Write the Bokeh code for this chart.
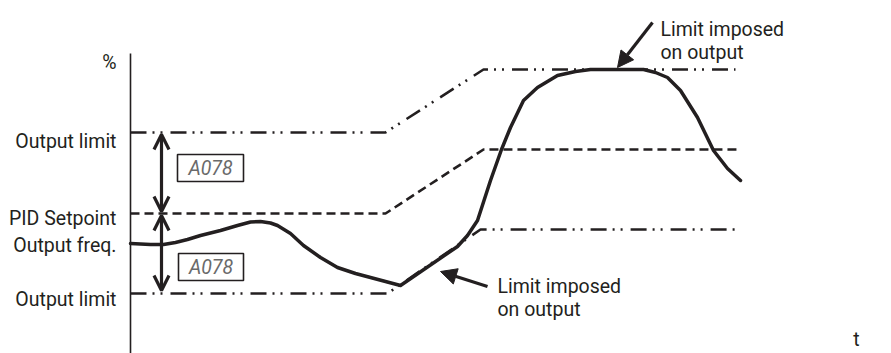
from bokeh.plotting import figure
from bokeh.models import Range1d, Arrow, OpenHead, NormalHead
from bokeh.core.properties import value
from bokeh.embed import file_html
from bokeh.resources import INLINE

INK = "#231f20"
FONT = "Roboto"

# ---- data (t, %) in schematic units ----
freq_t = [0, 20, 33, 45, 57, 70, 90, 107, 120, 130, 140, 147, 160, 173, 190, 207, 225, 240, 255, 270,
          327, 337, 347, 360, 371, 380, 393, 407, 427, 445, 460, 513, 525, 537, 550, 567, 583, 597, 610]
freq_v = [109, 108, 108, 110, 113, 117, 122, 127, 130.5, 131, 129.5, 127, 119, 107, 95, 85, 79, 75, 71, 67,
          106, 117, 132, 172, 203, 225, 252, 265, 277, 281, 283, 283, 280, 275, 262, 235, 202, 184, 172]

upper_t = [0, 255, 353, 605]
upper_v = [220, 220, 283, 283]
pid_t = [0, 255, 353, 610]
pid_v = [139, 139, 203, 203]
lower_t = [0, 257, 350, 605]
lower_v = [59, 59, 123, 123]

axis_labels = ["%", "Output limit", "PID Setpoint", "Output freq.", "Output limit"]
axis_label_y = [290, 211, 134, 107, 53]

p = figure(width=891, height=353, output_backend="svg", toolbar_location=None,
           x_range=Range1d(-130, 761), y_range=Range1d(-1, 352),
           x_axis_type=None, y_axis_type=None, min_border=0)
p.grid.visible = False
p.outline_line_color = None
p.background_fill_color = "white"

# vertical axis
p.line([0, 0], [-10, 299], line_color=INK, line_width=1.6)

# limit lines
dd = "16 6 2 6 2 8"
p.line(upper_t, upper_v, line_color=INK, line_width=2.6, line_dash=dd)
p.line(lower_t, lower_v, line_color=INK, line_width=2.6, line_dash=dd)
p.line(pid_t, pid_v, line_color=INK, line_width=2.6, line_dash="9 5")

# output frequency
p.line(freq_t, freq_v, line_color=INK, line_width=3.5, line_join="round", line_cap="round")

# left labels
p.text(x=[-14] * len(axis_labels), y=axis_label_y, text=axis_labels, text_align="right",
       text_baseline="alphabetic", text_font=value(FONT), text_font_size="19.5px", text_color=INK)
p.text(x=[726], y=[13], text=["t"], text_align="center", text_baseline="alphabetic",
       text_font=value(FONT), text_font_size="19.5px", text_color=INK)

# double arrows
for (y0, y1) in [(218, 141), (137, 62)]:
    p.add_layout(Arrow(x_start=31, y_start=(y0 + y1) / 2, x_end=31, y_end=y0,
                       end=OpenHead(size=15, line_width=3.2, line_color=INK),
                       line_width=3.2, line_color=INK))
    p.add_layout(Arrow(x_start=31, y_start=(y0 + y1) / 2, x_end=31, y_end=y1,
                       end=OpenHead(size=15, line_width=3.2, line_color=INK),
                       line_width=3.2, line_color=INK))

# parameter boxes
p.quad(left=[47, 48], right=[113, 113], top=[198, 99], bottom=[171, 72],
       fill_color="white", line_color=INK, line_width=1.6)
p.text(x=[80, 80.5], y=[184.5, 85.5], text=["A078", "A078"], text_align="center",
       text_baseline="middle", text_font=value(FONT), text_font_style="italic",
       text_font_size="19.5px", text_color="#6a6a6a")

# annotation arrows
p.add_layout(Arrow(x_start=357, y_start=66, x_end=310, y_end=81,
                   end=NormalHead(size=16, fill_color=INK, line_color=INK),
                   line_width=3.2, line_color=INK))
p.add_layout(Arrow(x_start=522, y_start=330, x_end=487, y_end=285,
                   end=NormalHead(size=16, fill_color=INK, line_color=INK),
                   line_width=3.2, line_color=INK))

p.text(x=[367, 367, 530, 530], y=[66, 43, 323, 300],
       text=["Limit imposed", "on output", "Limit imposed", "on output"],
       text_align="left", text_baseline="alphabetic", text_font=value(FONT),
       text_font_size="19.5px", text_color=INK)

open("out.html", "w").write(file_html(p, INLINE))
